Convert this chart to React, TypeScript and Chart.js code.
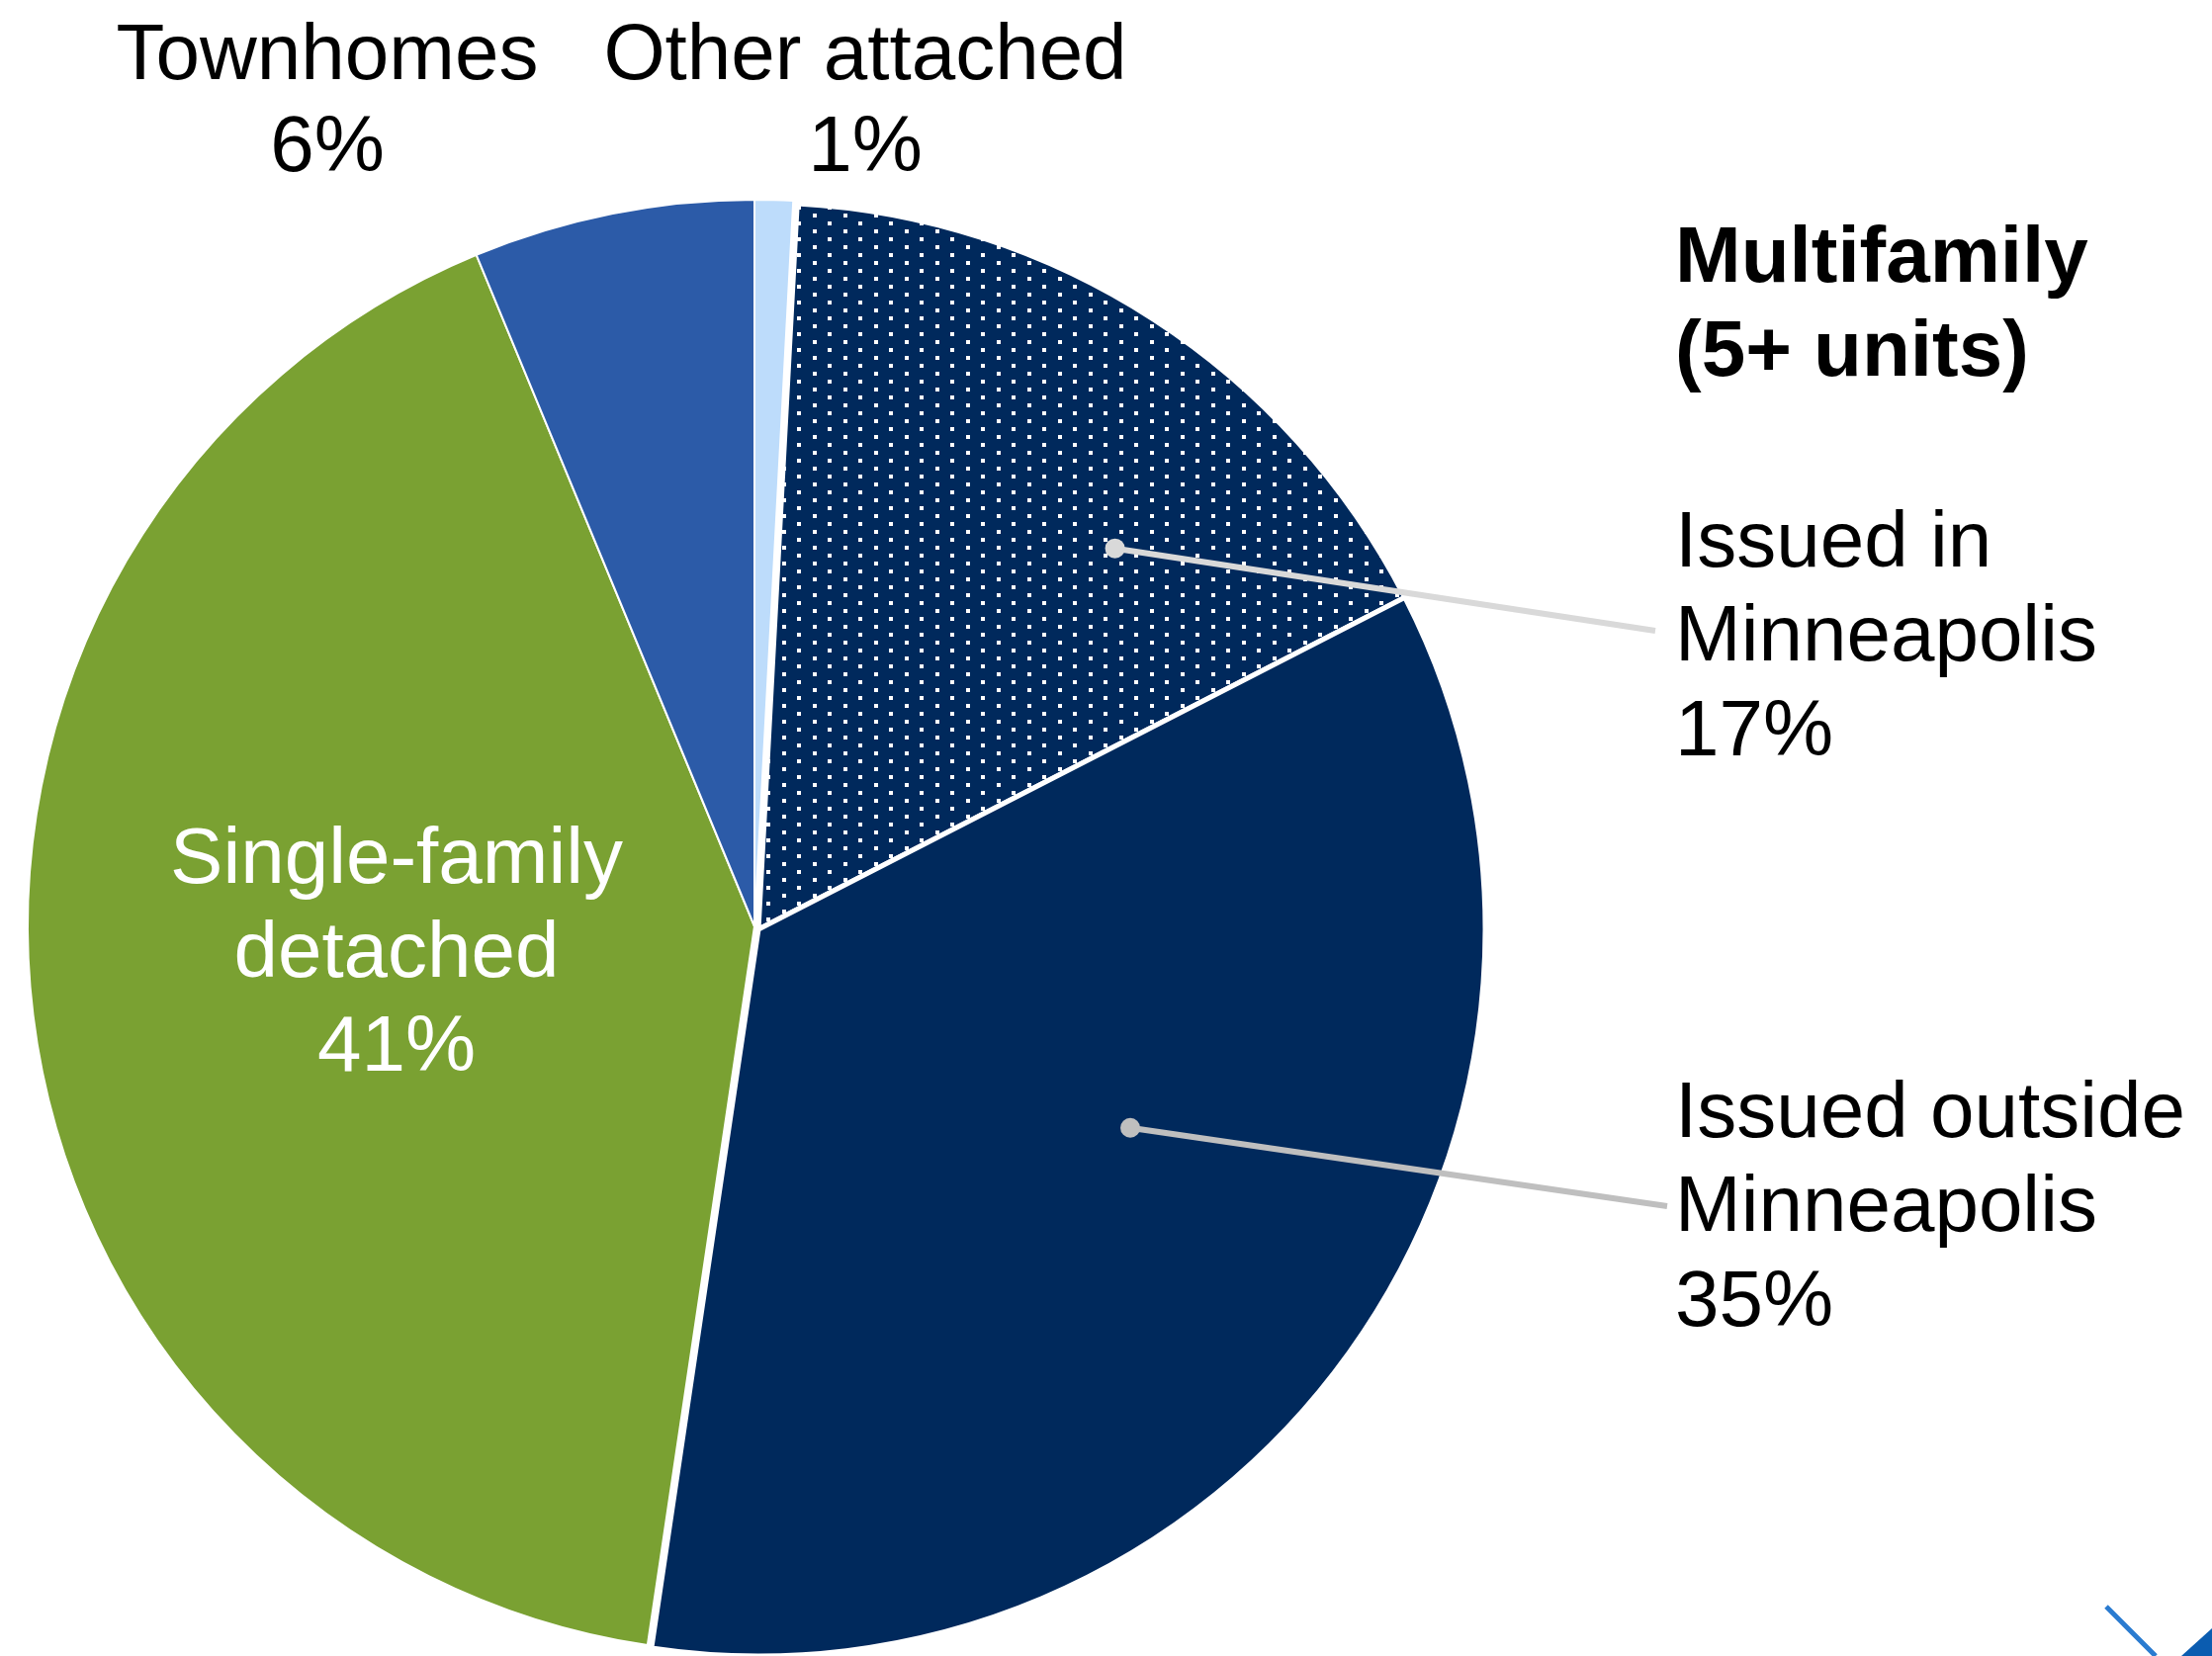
import React, { useEffect, useRef } from "react";
import { Chart, registerables } from "chart.js";

Chart.register(...registerables);

// ---- data ----
const categories = [
  "Other attached",
  "Issued in Minneapolis",
  "Issued outside Minneapolis",
  "Single-family detached",
  "Townhomes",
];
const shares = [0.85, 16.6, 34.9, 41.4, 6.25];
const pctLabels = ["1%", "17%", "35%", "41%", "6%"];
const groupTitle = ["Multifamily", "(5+ units)"];

// ---- styles ----
const FONT = "'Liberation Sans', Arial, Helvetica, sans-serif";
const NAVY = "#00295c";
const COLORS = ["#bddcfb", "PATTERN", NAVY, "#7aa132", "#2c5ba8"];
const BORDERS = [2, 5, 5, 2, 2];
const W = 2237;
const H = 1675;

function makeDotPattern(ctx: CanvasRenderingContext2D): CanvasPattern | string {
  const c = document.createElement("canvas");
  c.width = 62;
  c.height = 16;
  const p = c.getContext("2d");
  if (!p) return NAVY;
  p.fillStyle = NAVY;
  p.fillRect(0, 0, 62, 16);
  p.fillStyle = "#ffffff";
  p.fillRect(0, 0, 4, 4);
  p.fillRect(31, 0, 4, 4);
  p.fillRect(16, 8, 4, 4);
  p.fillRect(47, 8, 4, 4);
  return ctx.createPattern(c, "repeat") || NAVY;
}

// multifamily slices are pulled out together as one group
const explodeGroup = {
  id: "explodeGroup",
  afterDatasetsUpdate(chart: any) {
    const meta = chart.getDatasetMeta(0);
    [1, 2].forEach((i) => {
      const el = meta.data[i];
      if (el) {
        el.x += 4;
        el.y += 3;
      }
    });
  },
};

type Leader = { index: number; frac: number; rfrac: number; endX: number; endY: number; color: string };
const leaders: Leader[] = [
  { index: 1, frac: 0.67, rfrac: 0.718, endX: 1674, endY: 638, color: "#d9d9d9" },
  { index: 2, frac: 0.44, rfrac: 0.58, endX: 1686, endY: 1220, color: "#bfbfbf" },
];

const annotations = {
  id: "annotations",
  afterDraw(chart: any) {
    const ctx: CanvasRenderingContext2D = chart.ctx;
    const meta = chart.getDatasetMeta(0);
    ctx.save();

    // leader lines
    leaders.forEach((l) => {
      const arc = meta.data[l.index];
      const { x, y, startAngle, endAngle, outerRadius } = arc.getProps(
        ["x", "y", "startAngle", "endAngle", "outerRadius"],
        true
      );
      const a = startAngle + l.frac * (endAngle - startAngle);
      const px = x + Math.cos(a) * l.rfrac * outerRadius;
      const py = y + Math.sin(a) * l.rfrac * outerRadius;
      ctx.strokeStyle = l.color;
      ctx.lineWidth = 6;
      ctx.lineCap = "butt";
      ctx.beginPath();
      ctx.moveTo(px, py);
      ctx.lineTo(l.endX, l.endY);
      ctx.stroke();
      ctx.fillStyle = l.color;
      ctx.beginPath();
      ctx.arc(px, py, 10, 0, Math.PI * 2);
      ctx.fill();
    });

    ctx.textBaseline = "alphabetic";

    // top labels
    ctx.fillStyle = "#000000";
    ctx.textAlign = "center";
    ctx.font = `80px ${FONT}`;
    ctx.fillText(categories[4], 331, 80);
    ctx.fillText(pctLabels[4], 331, 173);
    ctx.fillText(categories[0], 875, 80);
    ctx.fillText(pctLabels[0], 875, 173);

    // right labels
    ctx.textAlign = "left";
    const lx = 1694;
    ctx.font = `bold 80px ${FONT}`;
    ctx.fillText(groupTitle[0], lx, 285);
    ctx.fillText(groupTitle[1], lx, 380);
    ctx.font = `80px ${FONT}`;
    ctx.fillText("Issued in", lx, 573);
    ctx.fillText("Minneapolis", lx, 668);
    ctx.fillText(pctLabels[1], lx, 764);
    ctx.fillText("Issued outside", lx, 1150);
    ctx.fillText("Minneapolis", lx, 1245);
    ctx.fillText(pctLabels[2], lx, 1341);

    // inside label
    ctx.fillStyle = "#ffffff";
    ctx.textAlign = "center";
    ctx.fillText("Single-family", 401, 893);
    ctx.fillText("detached", 401, 988);
    ctx.fillText(pctLabels[3], 401, 1083);

    // corner logo fragment
    ctx.strokeStyle = "#2a7bd0";
    ctx.lineWidth = 5;
    ctx.beginPath();
    ctx.moveTo(2130, 1625);
    ctx.lineTo(2180, 1675);
    ctx.stroke();
    ctx.fillStyle = "#0b5cb0";
    ctx.beginPath();
    ctx.moveTo(2206, 1675);
    ctx.lineTo(2237, 1647);
    ctx.lineTo(2237, 1675);
    ctx.closePath();
    ctx.fill();

    ctx.restore();
  },
};

export default function App() {
  const ref = useRef<HTMLCanvasElement | null>(null);

  useEffect(() => {
    const canvas = ref.current;
    if (!canvas) return;
    const ctx = canvas.getContext("2d");
    if (!ctx) return;
    const pattern = makeDotPattern(ctx);
    const bg = COLORS.map((c) => (c === "PATTERN" ? pattern : c));

    const chart = new Chart(canvas, {
      type: "pie",
      data: {
        labels: categories,
        datasets: [
          {
            data: shares,
            backgroundColor: bg as any,
            borderColor: "#ffffff",
            borderWidth: BORDERS,
          },
        ],
      },
      options: {
        responsive: false,
        animation: false,
        radius: 735,
        rotation: 0,
        layout: { padding: { left: 0, right: 711, top: 199, bottom: 0 } },
        plugins: {
          legend: { display: false },
          tooltip: { enabled: false },
          title: { display: false },
        },
      } as any,
      plugins: [explodeGroup, annotations],
    });
    return () => chart.destroy();
  }, []);

  return (
    <div style={{ position: "absolute", left: 0, top: 0, width: W, height: H, background: "#ffffff" }}>
      <canvas ref={ref} width={W} height={H} style={{ display: "block", width: W, height: H }} />
    </div>
  );
}
